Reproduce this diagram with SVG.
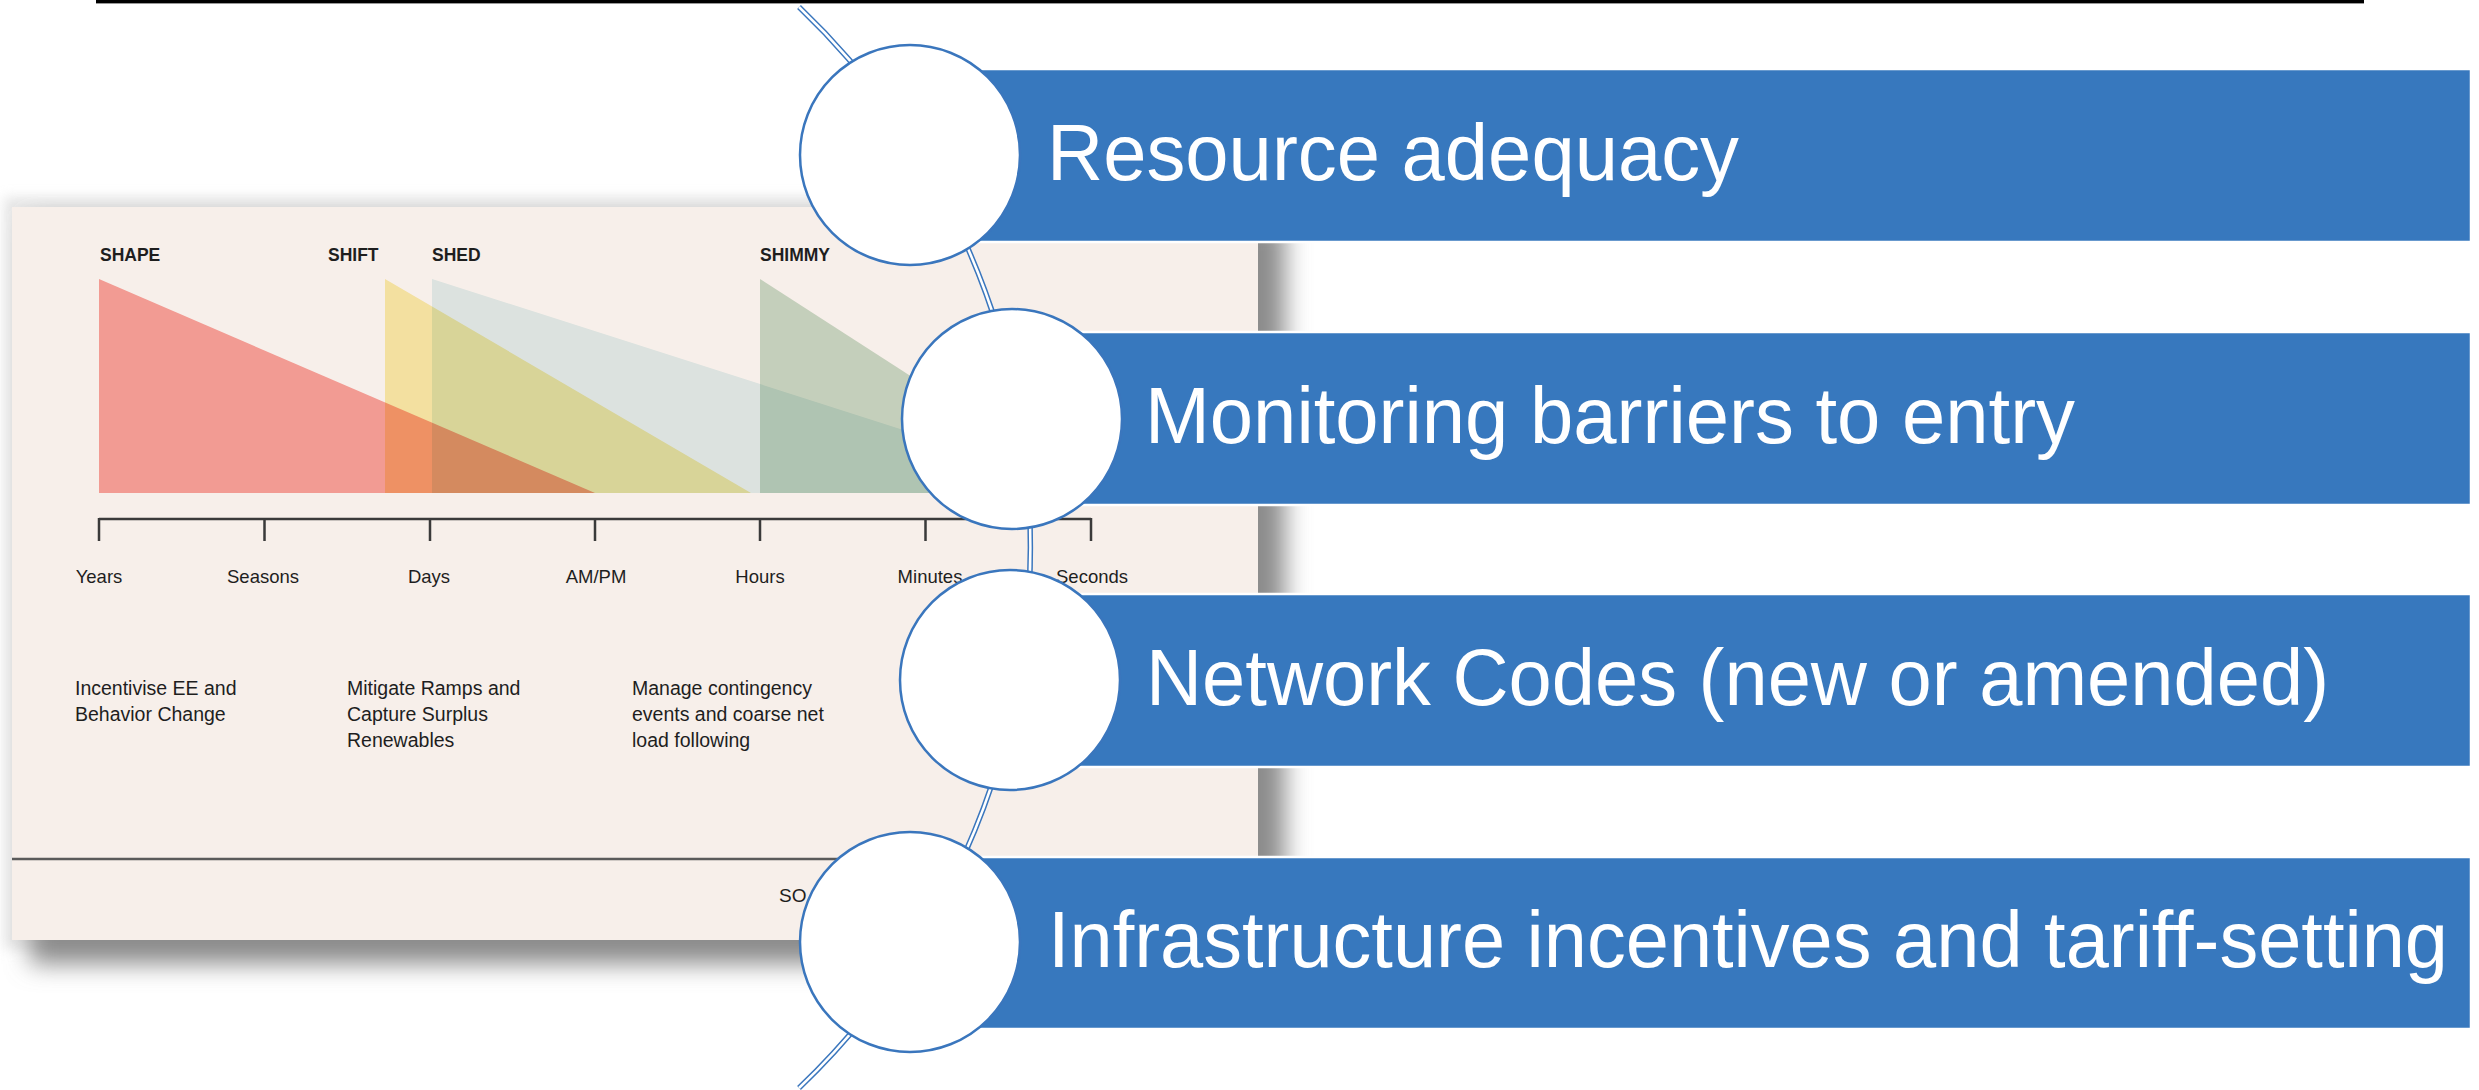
<svg xmlns="http://www.w3.org/2000/svg" width="2479" height="1090" viewBox="0 0 2479 1090">
<style>
.lbl{font-family:"Liberation Sans",Arial,sans-serif;fill:#1e1e1e}
.hd{font-size:17.5px;font-weight:bold}
.ax{font-size:18.5px;text-anchor:middle}
.ds{font-size:19.5px}
.box{fill:#3778be;stroke:#ffffff;stroke-width:2.5}
.btx{font-family:"Liberation Sans",Arial,sans-serif;font-size:79px;fill:#ffffff}
.circ{fill:#ffffff;stroke:#3a76bd;stroke-width:2.5}
.tri{mix-blend-mode:multiply}
.tick{stroke:#3a3a3a;stroke-width:2.5;fill:none}
</style>
<defs>
<filter id="blur12" x="-10%" y="-10%" width="120%" height="120%"><feGaussianBlur stdDeviation="12"/></filter>
<filter id="blur6" x="-10%" y="-10%" width="120%" height="120%"><feGaussianBlur stdDeviation="6"/></filter>
</defs>
<rect width="2479" height="1090" fill="#ffffff"/>
<rect x="96" y="0" width="2268" height="3.4" fill="#000000"/>
<g id="chart-picture">
<rect x="4" y="197" width="1262" height="752" fill="#d6d6d6" opacity="0.6" filter="url(#blur6)"/>
<rect x="30" y="222" width="1255" height="742" fill="#8c8c8c" filter="url(#blur12)"/>
<g style="isolation:isolate">
<rect x="12" y="207" width="1246" height="733" fill="#f7efea"/>
<path class="tri" d="M99,279 L99,493 L595,493 Z" fill="#faa5a0"/>
<path class="tri" d="M385,279 L385,493 L751,493 Z" fill="#fbefae"/>
<path class="tri" d="M432,279 L432,493 L1100,493 Z" fill="#e3f2f3"/>
<path class="tri" d="M760,279 L760,493 L1092,493 Z" fill="#cbddcc"/>
</g>
<text class="lbl hd" x="100" y="261">SHAPE</text>
<text class="lbl hd" x="328" y="261">SHIFT</text>
<text class="lbl hd" x="432" y="261">SHED</text>
<text class="lbl hd" x="760" y="261">SHIMMY</text>
<path class="tick" d="M99,519 H1091 M99,518 V541 M264.5,518 V541 M430,518 V541 M595,518 V541 M760,518 V541 M925.5,518 V541 M1091,518 V541"/>
<text class="lbl ax" x="99" y="583">Years</text>
<text class="lbl ax" x="263" y="583">Seasons</text>
<text class="lbl ax" x="429" y="583">Days</text>
<text class="lbl ax" x="596" y="583">AM/PM</text>
<text class="lbl ax" x="760" y="583">Hours</text>
<text class="lbl ax" x="930" y="583">Minutes</text>
<text class="lbl ax" x="1092" y="583">Seconds</text>
<text class="lbl ds" x="75" y="695">Incentivise EE and</text>
<text class="lbl ds" x="75" y="721">Behavior Change</text>
<text class="lbl ds" x="347" y="695">Mitigate Ramps and</text>
<text class="lbl ds" x="347" y="721">Capture Surplus</text>
<text class="lbl ds" x="347" y="747">Renewables</text>
<text class="lbl ds" x="632" y="695">Manage contingency</text>
<text class="lbl ds" x="632" y="721">events and coarse net</text>
<text class="lbl ds" x="632" y="747">load following</text>
<line x1="12" y1="859" x2="1258" y2="859" stroke="#5a5a5a" stroke-width="2.5"/>
<text class="lbl" x="779" y="902" style="font-size:19px">SO</text>
</g>
<g id="connectors">
<path d="M799,7 A747,747 0 0 1 799,1088" fill="none" stroke="#3a76bd" stroke-width="5.5"/>
<path d="M799,7 A747,747 0 0 1 799,1088" fill="none" stroke="#ffffff" stroke-width="2.5"/>
</g>
<g id="node-1">
<rect class="box" x="910" y="69" width="1561" height="173"/>
<text class="btx" x="1047" y="180" textLength="692" lengthAdjust="spacingAndGlyphs">Resource adequacy</text>
<circle class="circ" cx="910" cy="155" r="110"/>
</g>
<g id="node-2">
<rect class="box" x="1012" y="332" width="1459" height="173"/>
<text class="btx" x="1145" y="443" textLength="930" lengthAdjust="spacingAndGlyphs">Monitoring barriers to entry</text>
<circle class="circ" cx="1012" cy="419" r="110"/>
</g>
<g id="node-3">
<rect class="box" x="1010" y="594" width="1461" height="173"/>
<text class="btx" x="1146" y="705" textLength="1183" lengthAdjust="spacingAndGlyphs">Network Codes (new or amended)</text>
<circle class="circ" cx="1010" cy="680" r="110"/>
</g>
<g id="node-4">
<rect class="box" x="910" y="857" width="1561" height="172"/>
<text class="btx" x="1048" y="967" textLength="1400" lengthAdjust="spacingAndGlyphs">Infrastructure incentives and tariff-setting</text>
<circle class="circ" cx="910" cy="942" r="110"/>
</g>
</svg>
